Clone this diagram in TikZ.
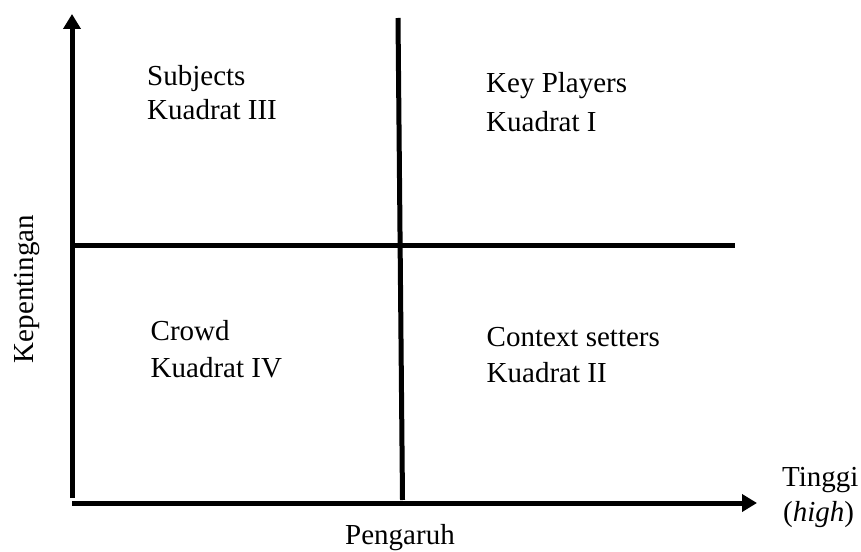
\documentclass[tikz,border=0pt]{standalone}
\usepackage{fontspec}
\setmainfont{Liberation Serif}
\usetikzlibrary{arrows.meta}
\begin{document}
\begin{tikzpicture}[x=1bp,y=-1bp,
  axisline/.style={line width=5bp},
  axisarrow/.style={line width=5bp,-{Triangle[length=15bp,width=17bp]}},
  lbl/.style={inner sep=0pt,anchor=base west,font=\fontsize{29bp}{33bp}\selectfont},
  lblc/.style={inner sep=0pt,anchor=base,font=\fontsize{29bp}{33bp}\selectfont}]
\useasboundingbox (0,0) rectangle (861,552);
% coordinates
\coordinate (vb) at (72,498);
\coordinate (vt) at (72,14);
\coordinate (hl) at (72,503);
\coordinate (hr) at (757,503);
\coordinate (dt) at (398,18);
\coordinate (db) at (402.5,500);
\coordinate (ml) at (72,246);
\coordinate (mr) at (735,246);
% axes and dividers
\draw[axisarrow] (vb) -- (vt);
\draw[axisarrow] (hl) -- (hr);
\draw[axisline] (dt) -- (db);
\draw[axisline] (ml) -- (mr);
% quadrant labels
\node[lbl] (s1) at (147,86) {Subjects};
\node[lbl] (s2) at (147,120) {Kuadrat III};
\node[lbl] (k1) at (486,93) {Key Players};
\node[lbl] (k2) at (486,132) {Kuadrat I};
\node[lbl] (c1) at (150.5,341) {Crowd};
\node[lbl] (c2) at (150.5,377) {Kuadrat IV};
\node[lbl] (x1) at (486.5,346) {Context setters};
\node[lbl] (x2) at (486.5,382) {Kuadrat II};
% axis labels
\node[lblc,rotate=90] (kep) at (33,289) {Kepentingan};
\node[lblc] (pen) at (400,544) {Pengaruh};
\node[lbl] (tg) at (782,486) {Tinggi};
\node[lbl] (hg) at (783,521) {(\textit{high})};
\end{tikzpicture}
\end{document}
